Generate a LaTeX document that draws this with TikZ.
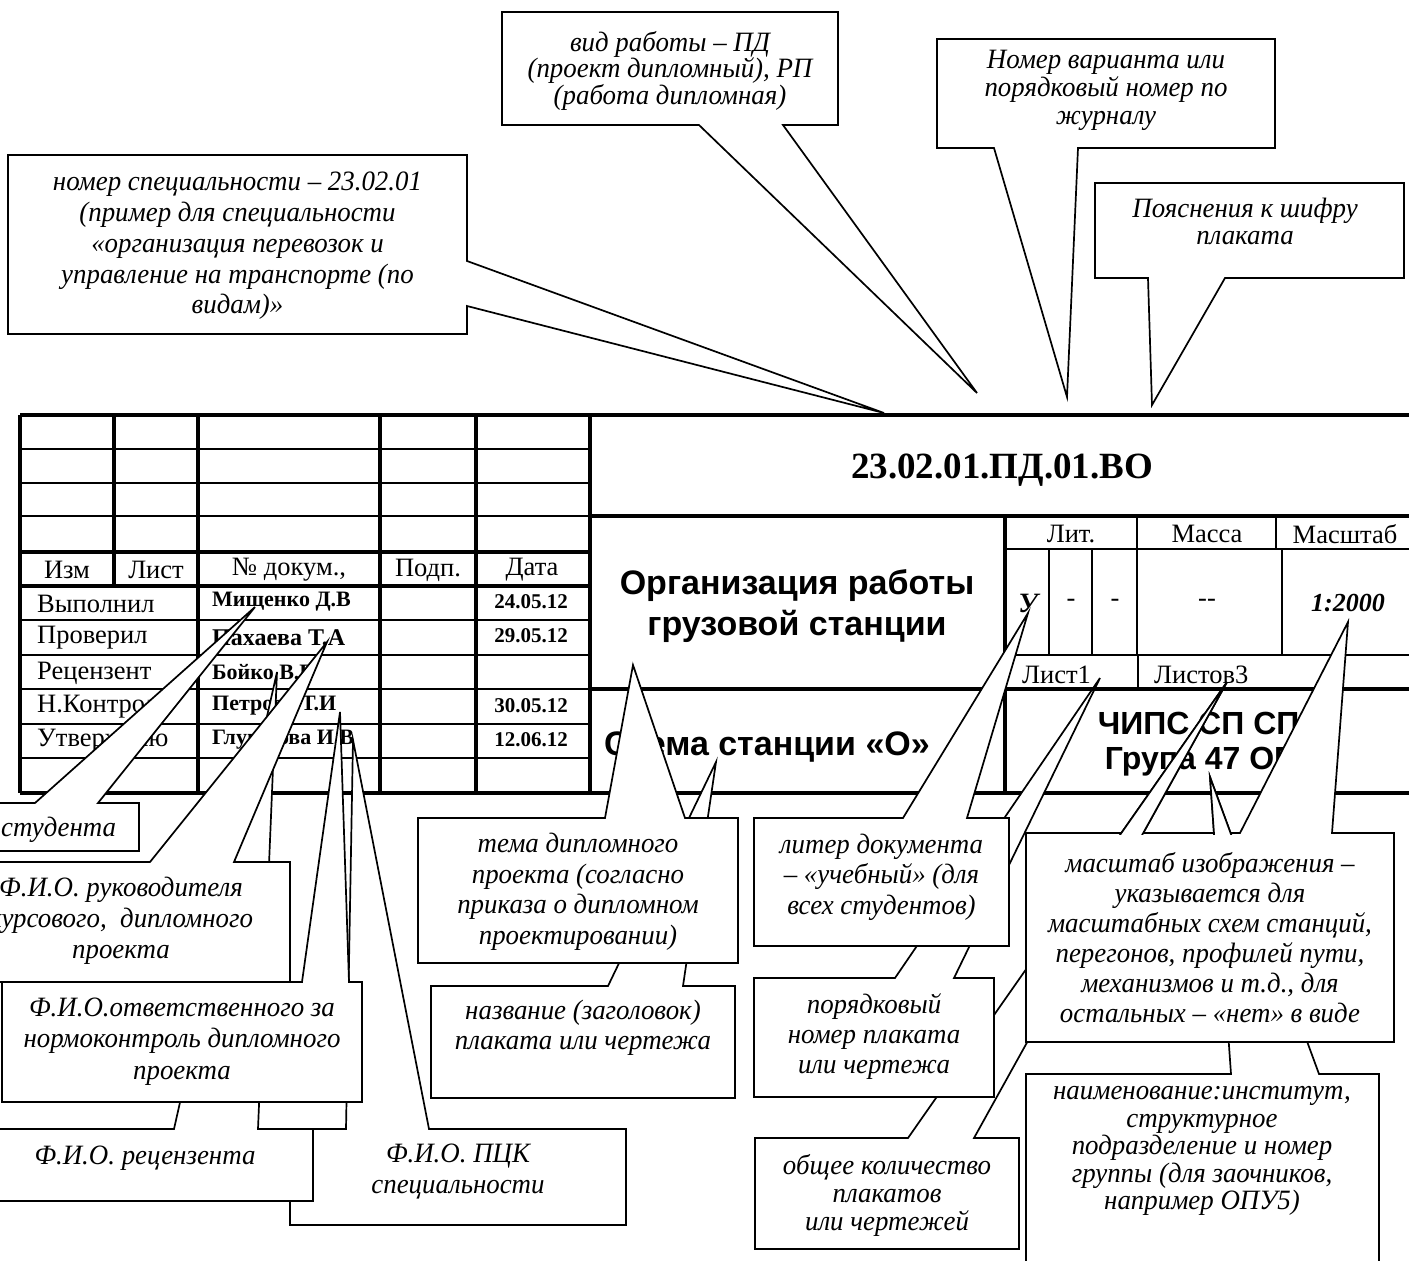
\documentclass[tikz,border=0pt]{standalone}
\usepackage{fontspec}
\setmainfont{Liberation Serif}
\newfontfamily\cofont{Liberation Serif}[FakeStretch=0.96]
\newfontfamily\sansfam{Liberation Sans}
\newcommand\cotop[8]{\draw[co] (#1,#2) -- (#5,#2) -- (#7,#8) -- (#6,#2) -- (#3,#2) -- (#3,#4) -- (#1,#4) -- cycle;}
\newcommand\cobot[8]{\draw[co] (#1,#2) -- (#3,#2) -- (#3,#4) -- (#6,#4) -- (#7,#8) -- (#5,#4) -- (#1,#4) -- cycle;}
\begin{document}
\begin{tikzpicture}[x=1pt,y=-1pt,
  co/.style={draw=black, fill=white, line width=1.7pt, line join=miter},
  col/.style={draw=black, line width=1.7pt, line join=miter},
  ct/.style={align=center, inner sep=0pt, font=\cofont\itshape\fontsize{28}{#1}\selectfont},
  ct/.default=30.5,
  tk/.style={line width=3.6pt},
  tm/.style={line width=2.8pt},
  tn/.style={line width=2pt},
  lab/.style={inner sep=0pt, font=\fontsize{26.5}{30}\selectfont},
  nm/.style={inner sep=0pt, font=\bfseries\fontsize{22}{24}\selectfont},
  nmb/.style={inner sep=0pt, font=\bfseries\fontsize{24}{28}\selectfont},
  dt/.style={inner sep=0pt, font=\bfseries\fontsize{21}{25}\selectfont},
  code/.style={inner sep=0pt, font=\bfseries\fontsize{37}{42}\selectfont},
  sb/.style={inner sep=0pt, align=center, font=\sansfam\bfseries\fontsize{34}{41.7}\selectfont},
  sbb/.style={inner sep=0pt, align=center, font=\sansfam\bfseries\fontsize{32}{35}\selectfont},
  bi/.style={inner sep=0pt, font=\bfseries\itshape\fontsize{#1}{30}\selectfont},
  bi/.default=26]
\useasboundingbox (0,0) rectangle (1409,1261);
\fill[white] (0,0) rectangle (1409,1261);
\begin{scope}
\clip (0,0) rectangle (1409,1261);
% ---------------- table ----------------
\draw[tk] (20,415) -- (1430,415);
\draw[tk] (20,793) -- (1430,793);
\draw[tk] (20,415) -- (20,793);
\draw[tk] (114,415) -- (114,586);
\draw[tk] (198,415) -- (198,793);
\draw[tk] (380,415) -- (380,793);
\draw[tk] (476,415) -- (476,793);
\draw[tk] (590,415) -- (590,793);
\foreach \yy in {449,483,516,620,655,689,724,758} \draw[tn] (20,\yy) -- (590,\yy);
\draw[tk] (20,552) -- (590,552);
\draw[tk] (20,586) -- (590,586);
\draw[tk] (590,516) -- (1430,516);
\draw[tk] (590,689) -- (1430,689);
\draw[tk] (1005,516) -- (1005,793);
\draw[tm] (1005,549) -- (1430,549);
\draw[tm] (1005,655) -- (1430,655);
\draw[tn] (1137,516) -- (1137,549);
\draw[tn] (1276,516) -- (1276,549);
\draw[tn] (1048.5,549) -- (1048.5,655);
\draw[tn] (1092.4,549) -- (1092.4,655);
\draw[tm] (1137,549) -- (1137,655);
\draw[tm] (1282,549) -- (1282,655);
\draw[tn] (1138,655) -- (1138,689);
% table texts
\node[lab] (hIzm) at (67,570) {Изм};
\node[lab] (hList) at (156,570) {Лист};
\node[lab] (hDoc) at (289,570) {№ докум.,};
\node[lab] (hPodp) at (428,570) {Подп.};
\node[lab] (hDate) at (532,570) {Дата};
\node[lab,anchor=west] (rA) at (37,604) {Выполнил};
\node[lab,anchor=west] (rB) at (37,638) {Проверил};
\node[lab,anchor=west] (rC) at (37,673) {Рецензент};
\node[lab,anchor=west] (rD) at (37,707) {Н.Контроль};
\node[lab,anchor=west] (rE) at (37,741) {Утверждаю};
\node[nm,anchor=west] (nA) at (212,602) {Мищенко Д.В};
\node[nmb,anchor=west] (nB) at (212,638) {Пахаева Т.А};
\node[nm,anchor=west] (nC) at (212,672) {Бойко В.Г};
\node[nm,anchor=west] (nD) at (212,706) {Петрова Т.И};
\node[nm,anchor=west] (nE) at (212,740) {Глушкова И.В};
\node[dt] (dA) at (531,602) {24.05.12};
\node[dt] (dB) at (531,636) {29.05.12};
\node[dt] (dD) at (531,706) {30.05.12};
\node[dt] (dE) at (531,740) {12.06.12};
\node[code] (cipher) at (1002,470) {23.02.01.ПД.01.ВО};
\node[sb] (title) at (797,606) {Организация работы\\грузовой станции};
\node[sb] (scheme) at (767,747) {Схема станции «О»};
\node[sbb] (org) at (1211,744.5) {ЧИПС СП СПО\\Група 47 ОПУ};
\node[lab] (lit) at (1071,534) {Лит.};
\node[lab] (mass) at (1207,534) {Масса};
\node[lab] (msh) at (1345,534) {Масштаб};
\node[bi=28] (u) at (1028,603) {У};
\node[lab] (m1) at (1071,603) {-};
\node[lab] (m2) at (1115,603) {-};
\node[lab] (m3) at (1207,603) {-{}-};
\node[bi] (scale) at (1348,603) {1:2000};
\node[lab,anchor=west] (sh1) at (1022,675) {Лист1};
\node[lab,anchor=west] (sh3) at (1154,675) {Листов3};
% ---------------- top callouts ----------------
\draw[co] (8,155) -- (467,155) -- (467,261) -- (884,413) -- (467,306) -- (467,334) -- (8,334) -- cycle;
\node[ct=30.8] (t1) at (237.5,246) {номер специальности – 23.02.01\\(пример для специальности\\«организация перевозок и\\управление на транспорте (по\\видам)»};
\cobot{502}{12}{838}{125}{699}{783}{977}{393}
\node[ct=25] (t2) at (670,71) {вид работы – ПД\\(проект дипломный), РП\\(работа дипломная)};
\cobot{937}{39}{1275}{148}{994}{1078}{1067}{397}
\node[ct=28] (t3) at (1106,90) {Номер варианта или\\порядковый номер по\\журналу};
\cobot{1095}{183}{1404}{278}{1148}{1225}{1152}{405}
\node[ct=27] (t4) at (1245,221.5) {Пояснения к шифру\\плаката};
% ---------------- bottom-left callouts ----------------
\cotop{290}{1129}{626}{1225}{346}{429}{353}{740}
\node[ct=31] (cP) at (458,1171.5) {Ф.И.О. ПЦК\\специальности};
\cotop{-40}{1129}{313}{1201}{174}{258}{277}{672}
\node[ct] (cR) at (145,1158) {Ф.И.О. рецензента};
\cotop{2}{982}{362}{1102}{302}{349}{340}{712}
\node[ct=31.5] (cC) at (182,1041.5) {Ф.И.О.ответственного за\\нормоконтроль дипломного\\проекта};
\cotop{-48}{862}{290}{982}{150}{234}{327}{642}
\node[ct=31] (cB) at (121,921) {Ф.И.О. руководителя\\курсового,\ \ дипломного\\проекта};
\cotop{-60}{803}{139}{851}{35}{98}{255}{607}
\node[ct,anchor=west] (cA) at (1,830) {студента};
% ---------------- middle callouts ----------------
\cotop{431}{986}{735}{1098}{608}{683}{716}{762}
\node[ct=30] (cN) at (583,1028) {название (заголовок)\\плаката или чертежа};
\cotop{418}{818}{738}{963}{605}{685}{633}{665}
\node[ct=30.5] (cT) at (578,892) {тема дипломного\\проекта (согласно\\приказа о дипломном\\проектировании)};
% ---------------- right callouts ----------------
\cotop{755}{1138}{1019}{1249}{908}{974}{1227}{682}
\node[ct=28] (cG) at (887,1195) {общее количество\\плакатов\\или чертежей};
\cotop{754}{978}{994}{1097}{895}{954}{1100}{678}
\node[ct=30] (cO) at (874,1037) {порядковый\\номер плаката\\или чертежа};
\cotop{754}{818}{1009}{946}{903}{967}{1028}{613}
\node[ct=30.5] (cL) at (881.5,877) {литер документа\\– «учебный» (для\\всех студентов)};
\cotop{1026}{1074}{1379}{1290}{1231}{1319}{1210}{777}
\node[ct=27.5] (cH) at (1202,1151) {наименование:институт,\\структурное\\подразделение и номер\\группы (для заочников,\\например ОПУ5)};
\cotop{1026}{833}{1394}{1042}{1240}{1332}{1348}{622}
\node[ct=30] (cM) at (1210,938) {масштаб изображения –\\указывается для\\масштабных схем станций,\\перегонов, профилей пути,\\механизмов и т.д., для\\остальных – «нет» в виде};
\begin{scope}
\clip (0,0) rectangle (1409,834.8);
\fill[white] (908,1138) -- (1227,682) -- (974,1138) -- cycle;
\draw[col] (908,1138) -- (1227,682) -- (974,1138);
\fill[white] (1231,1074) -- (1210,777) -- (1319,1074) -- cycle;
\draw[col] (1231,1074) -- (1210,777) -- (1319,1074);
\end{scope}
\end{scope}
\end{tikzpicture}
\end{document}
